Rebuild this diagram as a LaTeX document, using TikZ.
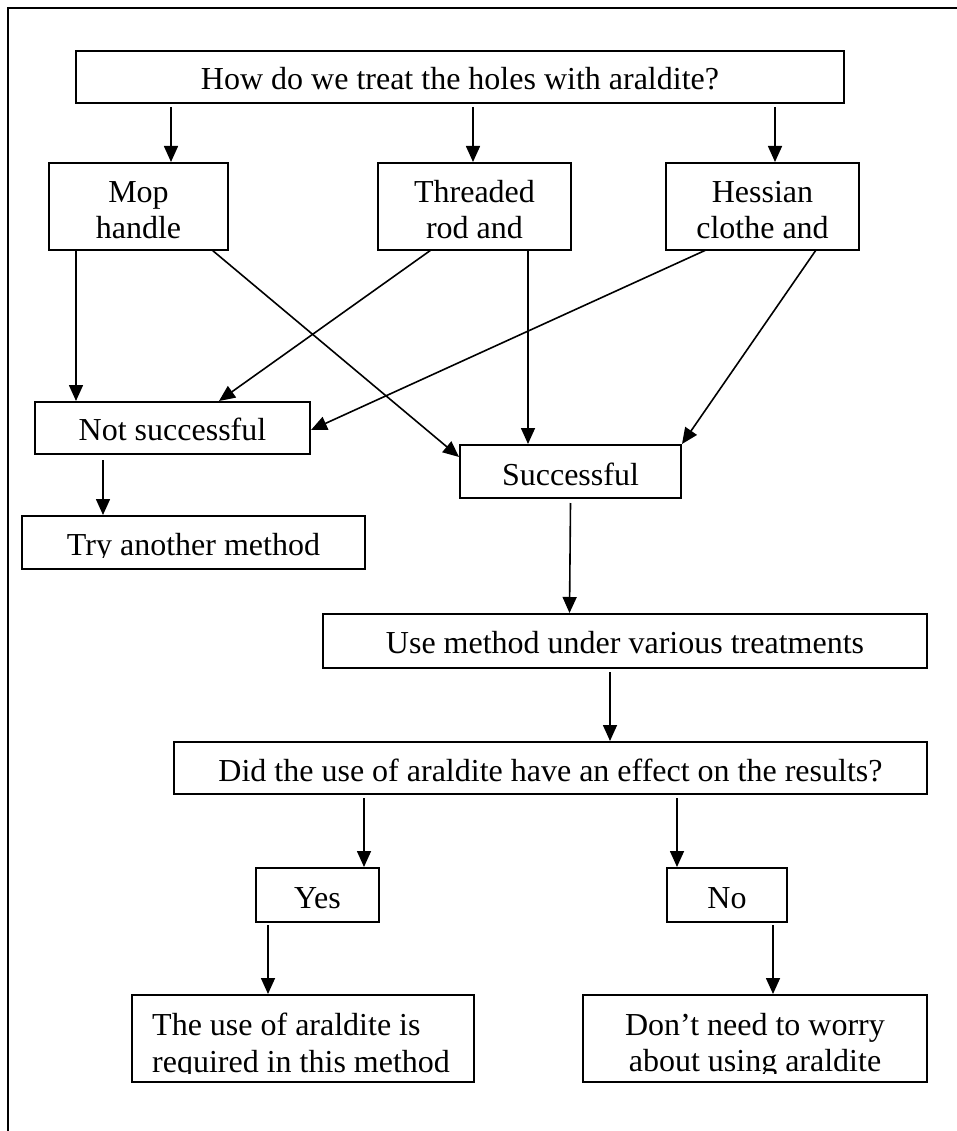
\documentclass[tikz,border=0pt]{standalone}
\usepackage{fontspec}
\setmainfont{Liberation Serif}
\usetikzlibrary{arrows.meta}
\begin{document}
\begin{tikzpicture}[x=1pt,y=-1pt,
  box/.style={draw, line width=2pt, rectangle, inner sep=0pt},
  txt/.style={inner sep=0pt, font=\fontsize{32}{36}\selectfont},
  arr/.style={line width=1.6pt, -{Triangle[length=16pt,width=14pt]}},
  frame/.style={line width=2.2pt}]
\useasboundingbox (0,0) rectangle (957,1131);
% outer frame (top and left edges only)
\coordinate (fTL) at (8,8);
\coordinate (fTR) at (957,8);
\coordinate (fBL) at (8,1131);
\draw[frame] (fTR) -- (fTL) -- (fBL);

% boxes
\node[box, minimum width=768pt, minimum height=52pt] (top) at (460,77) {};
\node[box, minimum width=179pt, minimum height=87pt] (mop) at (138.5,206.5) {};
\node[box, minimum width=193pt, minimum height=87pt] (thr) at (474.5,206.5) {};
\node[box, minimum width=193pt, minimum height=87pt] (hes) at (762.5,206.5) {};
\node[box, minimum width=275pt, minimum height=52pt] (ns) at (172.5,428) {};
\node[box, minimum width=343pt, minimum height=53pt] (try) at (193.5,542.5) {};
\node[box, minimum width=221pt, minimum height=53pt] (suc) at (570.5,471.5) {};
\node[box, minimum width=604pt, minimum height=54pt] (use) at (625,641) {};
\node[box, minimum width=753pt, minimum height=52pt] (did) at (550.5,768) {};
\node[box, minimum width=123pt, minimum height=54pt] (yes) at (317.5,895) {};
\node[box, minimum width=120pt, minimum height=54pt] (no) at (727,895) {};
\node[box, minimum width=342pt, minimum height=87pt] (req) at (303,1038.5) {};
\node[box, minimum width=344pt, minimum height=87pt] (dont) at (755,1038.5) {};

% texts
\node[txt, anchor=base] (ttop) at (460,90) {How do we treat the holes with araldite?};
\node[txt, anchor=base] (tmop1) at (138.5,203) {Mop};
\node[txt, anchor=base] (tmop2) at (138.5,239) {handle};
\node[txt, anchor=base] (tthr1) at (474.5,203) {Threaded};
\node[txt, anchor=base] (tthr2) at (474.5,239) {rod and};
\node[txt, anchor=base] (thes1) at (762.5,203) {Hessian};
\node[txt, anchor=base] (thes2) at (762.5,239) {clothe and};
\node[txt, anchor=base] (tns) at (172.5,440) {Not successful};
\begin{scope}
  \clip (0,0) rectangle (957,557);
  \node[txt, anchor=base] (ttry) at (193.5,555) {Try another method};
\end{scope}
\node[txt, anchor=base] (tsuc) at (570.5,485) {Successful};
\node[txt, anchor=base] (tuse) at (625,653) {Use method under various treatments};
\node[txt, anchor=base] (tdid) at (550.5,781) {Did the use of araldite have an effect on the results?};
\node[txt, anchor=base] (tyes) at (317.5,908) {Yes};
\node[txt, anchor=base] (tno) at (727,908) {No};
\begin{scope}
  \clip (0,0) rectangle (957,1073);
  \node[txt, anchor=base west] (treq1) at (152,1035) {The use of araldite is};
  \node[txt, anchor=base west] (treq2) at (152,1072) {required in this method};
  \node[txt, anchor=base] (tdont1) at (755,1035) {Don’t need to worry};
  \node[txt, anchor=base] (tdont2) at (755,1071) {about using araldite};
\end{scope}

% connectors
\draw[arr] ([xshift=96pt,yshift=-3pt]top.south west) -- ([xshift=123pt]mop.north west);
\draw[arr] ([xshift=398pt,yshift=-3pt]top.south west) -- ([xshift=96pt]thr.north west);
\draw[arr] ([xshift=700pt,yshift=-3pt]top.south west) -- ([xshift=110pt]hes.north west);
\draw[arr] ([xshift=28pt,yshift=1pt]mop.south west) -- ([xshift=42pt]ns.north west);
\draw[arr] ([xshift=164pt,yshift=1pt]mop.south west) -- ([yshift=-13pt]suc.north west);
\draw[arr] ([xshift=54pt,yshift=1pt]thr.south west) -- ([xshift=185pt]ns.north west);
\draw[arr] ([xshift=151pt,yshift=1pt]thr.south west) -- ([xshift=69pt]suc.north west);
\draw[arr] ([xshift=41pt,yshift=1pt]hes.south west) -- ([yshift=-2pt]ns.east);
\draw[arr] ([xshift=151pt,yshift=1pt]hes.south west) -- (suc.north east);
\draw[arr] ([xshift=69pt,yshift=-5pt]ns.south west) -- ([xshift=82pt]try.north west);
\draw[arr] ([yshift=-4pt]suc.south) -- ([xshift=247.5pt]use.north west);
\draw[arr] ([xshift=288pt,yshift=-3pt]use.south west) -- ([xshift=437pt]did.north west);
\draw[arr] ([xshift=191pt,yshift=-3pt]did.south west) -- ([xshift=109pt]yes.north west);
\draw[arr] ([xshift=504pt,yshift=-3pt]did.south west) -- ([xshift=11pt]no.north west);
\draw[arr] ([xshift=13pt,yshift=-2pt]yes.south west) -- ([xshift=137pt]req.north west);
\draw[arr] ([xshift=107pt,yshift=-2pt]no.south west) -- ([xshift=191pt]dont.north west);
\end{tikzpicture}
\end{document}
